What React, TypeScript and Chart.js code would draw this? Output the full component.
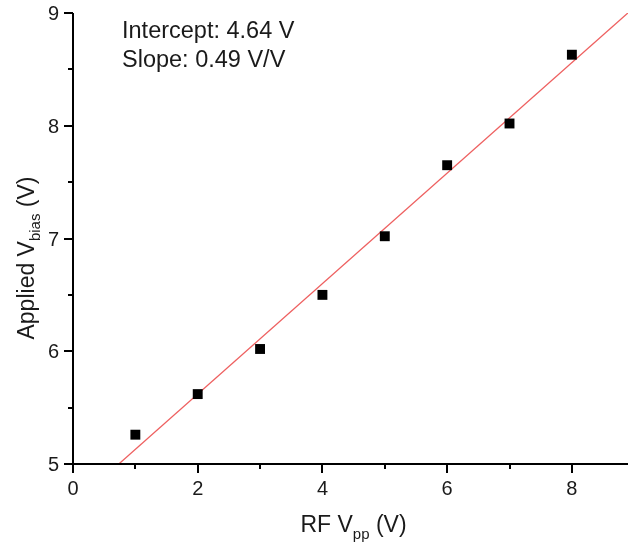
import React, { useEffect, useRef } from 'react';
import { Chart, registerables } from 'chart.js';
Chart.register(...registerables);

const rfVpp = [1, 2, 3, 4, 5, 6, 7, 8];
const appliedVbias = [5.26, 5.62, 6.02, 6.5, 7.02, 7.65, 8.02, 8.63];
const fitIntercept = 4.64;
const fitSlope = 0.49;
const fitRangeX = [0, 9.2];
const xMajorTicks = [0, 2, 4, 6, 8];
const xMinorTicks = [1, 3, 5, 7];
const yMajorTicks = [5, 6, 7, 8, 9];
const yMinorTicks = [5.5, 6.5, 7.5, 8.5];
const xTickLabels = ['0', '2', '4', '6', '8'];
const yTickLabels = ['5', '6', '7', '8', '9'];
const annotationLines = ['Intercept: 4.64 V', 'Slope: 0.49 V/V'];

const FONT = "'Liberation Sans', Arial, sans-serif";
const TEXT = '#1a1a1a';

const axesPlugin = {
  id: 'originAxes',
  afterDraw(chart: any) {
    const ctx = chart.ctx as CanvasRenderingContext2D;
    const ca = chart.chartArea;
    const xs = chart.scales.x;
    const ys = chart.scales.y;
    ctx.save();
    ctx.strokeStyle = '#000';
    ctx.lineWidth = 2;
    ctx.beginPath();
    ctx.moveTo(ca.left, ca.top);
    ctx.lineTo(ca.left, ca.bottom);
    ctx.lineTo(ca.right, ca.bottom);
    ctx.stroke();
    ctx.beginPath();
    for (const v of xMajorTicks) {
      const px = Math.round(xs.getPixelForValue(v));
      ctx.moveTo(px, ca.bottom);
      ctx.lineTo(px, ca.bottom + 9);
    }
    for (const v of xMinorTicks) {
      const px = Math.round(xs.getPixelForValue(v));
      ctx.moveTo(px, ca.bottom);
      ctx.lineTo(px, ca.bottom + 5);
    }
    for (const v of yMajorTicks) {
      const py = Math.round(ys.getPixelForValue(v));
      ctx.moveTo(ca.left, py);
      ctx.lineTo(ca.left - 9, py);
    }
    for (const v of yMinorTicks) {
      const py = Math.round(ys.getPixelForValue(v));
      ctx.moveTo(ca.left, py);
      ctx.lineTo(ca.left - 5, py);
    }
    ctx.stroke();

    ctx.fillStyle = TEXT;
    ctx.font = `20px ${FONT}`;
    ctx.textAlign = 'center';
    ctx.textBaseline = 'alphabetic';
    xMajorTicks.forEach((v, i) => {
      ctx.fillText(xTickLabels[i], xs.getPixelForValue(v), ca.bottom + 31);
    });
    ctx.textAlign = 'right';
    yMajorTicks.forEach((v, i) => {
      ctx.fillText(yTickLabels[i], ca.left - 14, ys.getPixelForValue(v) + 7);
    });

    ctx.textAlign = 'left';
    ctx.font = `23.5px ${FONT}`;
    ctx.fillText(annotationLines[0], 122, 38);
    ctx.fillText(annotationLines[1], 122, 66.5);

    const big = `23px ${FONT}`;
    const small = `15px ${FONT}`;
    const xParts: [string, string, number][] = [
      ['RF V', big, 0],
      ['pp', small, 7],
      [' (V)', big, 0],
    ];
    let total = 0;
    for (const [t, f] of xParts) { ctx.font = f; total += ctx.measureText(t).width; }
    let cx = 353.5 - total / 2;
    for (const [t, f, dy] of xParts) {
      ctx.font = f;
      ctx.fillText(t, cx, 532 + dy);
      cx += ctx.measureText(t).width;
    }

    const yParts: [string, string, number][] = [
      ['Applied V', big, 0],
      ['bias', small, 6],
      [' (V)', big, 0],
    ];
    total = 0;
    for (const [t, f] of yParts) { ctx.font = f; total += ctx.measureText(t).width; }
    ctx.translate(34, 258);
    ctx.rotate(-Math.PI / 2);
    let lx = -total / 2;
    for (const [t, f, dy] of yParts) {
      ctx.font = f;
      ctx.fillText(t, lx, dy);
      lx += ctx.measureText(t).width;
    }
    ctx.restore();
  },
};

export default function App() {
  const ref = useRef<HTMLCanvasElement | null>(null);
  useEffect(() => {
    if (!ref.current) return;
    const chart = new Chart(ref.current, {
      type: 'scatter',
      data: {
        datasets: [
          {
            label: 'Fit',
            type: 'line',
            data: fitRangeX.map((x) => ({ x, y: fitIntercept + fitSlope * x })),
            borderColor: 'rgb(238,96,96)',
            borderWidth: 1.3,
            pointRadius: 0,
            fill: false,
            order: 2,
          },
          {
            label: 'Data',
            data: rfVpp.map((x, i) => ({ x, y: appliedVbias[i] })),
            pointStyle: 'rect',
            pointRadius: 7,
            pointBorderWidth: 0,
            backgroundColor: '#000',
            borderColor: '#000',
            order: 1,
          },
        ],
      },
      options: {
        responsive: false,
        animation: false,
        devicePixelRatio: 1,
        layout: { autoPadding: false, padding: { top: 13, right: 0, left: 0, bottom: 0 } },
        plugins: { legend: { display: false }, tooltip: { enabled: false } },
        scales: {
          x: {
            type: 'linear',
            min: 0,
            max: 8.9,
            grid: { display: false },
            border: { display: false },
            ticks: { display: false },
            afterFit: (s: any) => {
              s.height = 82;
              s.paddingLeft = 0; s.paddingRight = 0; s.paddingTop = 0; s.paddingBottom = 0;
            },
          },
          y: {
            type: 'linear',
            min: 5,
            max: 9,
            grid: { display: false },
            border: { display: false },
            ticks: { display: false },
            afterFit: (s: any) => {
              s.width = 73;
              s.paddingLeft = 0; s.paddingRight = 0; s.paddingTop = 0; s.paddingBottom = 0;
            },
          },
        },
      },
      plugins: [axesPlugin],
    });
    return () => chart.destroy();
  }, []);
  return (
    <div style={{ position: 'absolute', left: 0, top: 0, width: 628, height: 546, background: '#fff' }}>
      <canvas ref={ref} width={628} height={546} />
    </div>
  );
}
